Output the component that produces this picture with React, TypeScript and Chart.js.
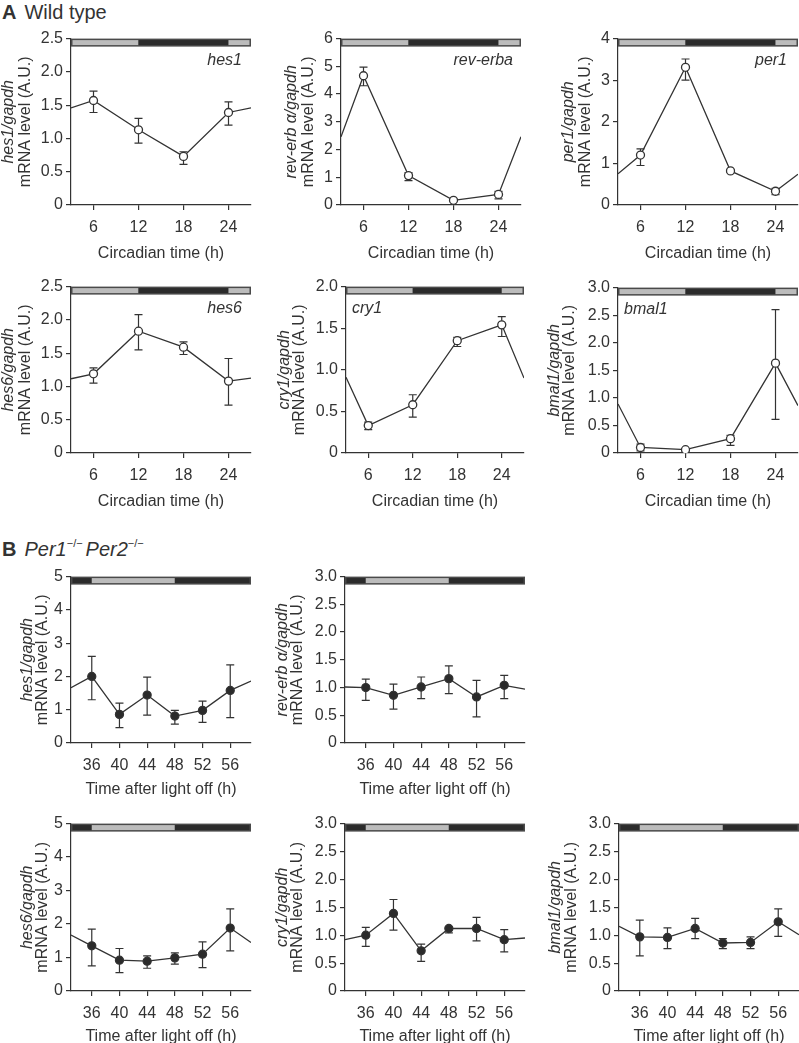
import React, { useEffect, useRef } from 'react';
import { Chart, registerables } from 'chart.js';
Chart.register(...registerables);

const FONT = '"Liberation Sans", Arial, Helvetica, sans-serif';
const INK = '#333333';

// ---------- A: Wild type (circadian time) ----------
const ctHours = [3, 6, 12, 18, 24, 27];
const ctTicks = [6, 12, 18, 24];
const ctPhaseEdges = [3, 12, 24, 27];
const ctPhaseDark = [false, true, false];

const hes1WT = [1.46, 1.57, 1.13, 0.73, 1.39, 1.46];
const hes1WTHi = [null, 1.71, 1.30, 0.80, 1.55, null];
const hes1WTLo = [null, 1.39, 0.93, 0.61, 1.20, null];

const revErbWT = [2.46, 4.66, 1.06, 0.17, 0.38, 2.46];
const revErbWTHi = [null, 4.97, 1.17, 0.20, 0.49, null];
const revErbWTLo = [null, 4.30, 0.88, 0.14, 0.22, null];

const per1WT = [0.75, 1.2, 3.31, 0.82, 0.33, 0.74];
const per1WTHi = [null, 1.35, 3.51, 0.85, 0.40, null];
const per1WTLo = [null, 0.95, 3.0, 0.79, 0.25, null];

const hes6WT = [1.115, 1.19, 1.83, 1.59, 1.08, 1.125];
const hes6WTHi = [null, 1.28, 2.08, 1.67, 1.42, null];
const hes6WTLo = [null, 1.05, 1.55, 1.48, 0.72, null];

const cry1WT = [0.91, 0.33, 0.58, 1.35, 1.54, 0.90];
const cry1WTHi = [null, 0.37, 0.70, 1.39, 1.64, null];
const cry1WTLo = [null, 0.28, 0.43, 1.28, 1.40, null];

const bmal1WT = [0.89, 0.10, 0.06, 0.26, 1.63, 0.86];
const bmal1WTHi = [null, 0.16, 0.08, 0.32, 2.60, null];
const bmal1WTLo = [null, 0.04, 0.04, 0.14, 0.61, null];

// ---------- B: Per1-/- Per2-/- (time after light off) ----------
const offHours = [33, 36, 40, 44, 48, 52, 56, 59];
const offTicks = [36, 40, 44, 48, 52, 56];
const offPhaseEdges = [33, 36, 48, 59];
const offPhaseDark = [true, false, true];

const hes1KO = [1.66, 2.0, 0.86, 1.44, 0.81, 0.98, 1.58, 1.86];
const hes1KOHi = [null, 2.6, 1.2, 1.98, 0.98, 1.26, 2.35, null];
const hes1KOLo = [null, 1.3, 0.46, 0.84, 0.57, 0.62, 0.76, null];

const revErbKO = [1.01, 1.0, 0.86, 1.01, 1.16, 0.83, 1.04, 0.97];
const revErbKOHi = [null, 1.15, 1.06, 1.19, 1.39, 1.13, 1.22, null];
const revErbKOLo = [null, 0.77, 0.61, 0.80, 0.89, 0.47, 0.80, null];

const hes6KO = [1.67, 1.35, 0.92, 0.89, 0.99, 1.10, 1.88, 1.45];
const hes6KOHi = [null, 1.85, 1.27, 1.05, 1.14, 1.47, 2.45, null];
const hes6KOLo = [null, 0.75, 0.55, 0.68, 0.80, 0.70, 1.20, null];

const cry1KO = [0.92, 1.0, 1.39, 0.72, 1.12, 1.12, 0.92, 0.95];
const cry1KOHi = [null, 1.14, 1.64, 0.84, 1.14, 1.32, 1.10, null];
const cry1KOLo = [null, 0.80, 1.09, 0.53, 1.04, 0.90, 0.70, null];

const bmal1KO = [1.16, 0.97, 0.96, 1.12, 0.86, 0.87, 1.24, 1.01];
const bmal1KOHi = [null, 1.27, 1.13, 1.30, 0.94, 0.97, 1.47, null];
const bmal1KOLo = [null, 0.63, 0.76, 0.94, 0.76, 0.76, 0.98, null];

const ctTitle = 'Circadian time (h)';
const offTitle = 'Time after light off (h)';
const mrnaTitle = 'mRNA level (A.U.)';

type PanelCfg = {
  key: string;
  axisX: number; right: number; top: number; bottom: number; t1: number; t2: number; xh: number;
  xs: number[]; ys: number[]; hi: (number | null)[]; lo: (number | null)[];
  xTicks: number[]; xMin: number; xMax: number; xTitle: string;
  phaseEdges: number[]; phaseDark: boolean[];
  yMax: number; yStep: number; yDec: number; yTitle: string;
  gene?: string; geneAlign?: 'left' | 'right'; geneOff?: number;
  filled: boolean;
};

const A = { xs: ctHours, xTicks: ctTicks, xMin: 3, xMax: 27, xTitle: ctTitle, phaseEdges: ctPhaseEdges, phaseDark: ctPhaseDark, filled: false, xh: 58 };
const B = { xs: offHours, xTicks: offTicks, xMin: 33, xMax: 59, xTitle: offTitle, phaseEdges: offPhaseEdges, phaseDark: offPhaseDark, filled: true, xh: 56 };

const panels: PanelCfg[] = [
  { key: 'a1', ...A, axisX: 71, right: 251, top: 38, bottom: 205, t1: -62, t2: -45, ys: hes1WT, hi: hes1WTHi, lo: hes1WTLo, yMax: 2.5, yStep: 0.5, yDec: 1, yTitle: 'hes1/gapdh', gene: 'hes1', geneAlign: 'right', geneOff: 9 },
  { key: 'a2', ...A, axisX: 341, right: 521, top: 38, bottom: 205, t1: -49, t2: -32, ys: revErbWT, hi: revErbWTHi, lo: revErbWTLo, yMax: 6, yStep: 1, yDec: 0, yTitle: 'rev-erb \u03B1/gapdh', gene: 'rev-erba', geneAlign: 'right', geneOff: 8 },
  { key: 'a3', ...A, axisX: 618, right: 798, top: 38, bottom: 205, t1: -49, t2: -32, ys: per1WT, hi: per1WTHi, lo: per1WTLo, yMax: 4, yStep: 1, yDec: 0, yTitle: 'per1/gapdh', gene: 'per1', geneAlign: 'right', geneOff: 11 },
  { key: 'a4', ...A, axisX: 71, right: 251, top: 286, bottom: 453, t1: -62, t2: -45, ys: hes6WT, hi: hes6WTHi, lo: hes6WTLo, yMax: 2.5, yStep: 0.5, yDec: 1, yTitle: 'hes6/gapdh', gene: 'hes6', geneAlign: 'right', geneOff: 9 },
  { key: 'a5', ...A, axisX: 346, right: 524, top: 286, bottom: 453, t1: -61, t2: -46, ys: cry1WT, hi: cry1WTHi, lo: cry1WTLo, yMax: 2.0, yStep: 0.5, yDec: 1, yTitle: 'cry1/gapdh', gene: 'cry1', geneAlign: 'left', geneOff: 6 },
  { key: 'a6', ...A, axisX: 618, right: 798, top: 287, bottom: 453, t1: -63, t2: -48, ys: bmal1WT, hi: bmal1WTHi, lo: bmal1WTLo, yMax: 3.0, yStep: 0.5, yDec: 1, yTitle: 'bmal1/gapdh', gene: 'bmal1', geneAlign: 'left', geneOff: 6 },
  { key: 'b1', ...B, axisX: 71, right: 251, top: 576, bottom: 743, t1: -43, t2: -28, ys: hes1KO, hi: hes1KOHi, lo: hes1KOLo, yMax: 5, yStep: 1, yDec: 0, yTitle: 'hes1/gapdh' },
  { key: 'b2', ...B, axisX: 345, right: 525, top: 576, bottom: 743, t1: -62, t2: -47, ys: revErbKO, hi: revErbKOHi, lo: revErbKOLo, yMax: 3.0, yStep: 0.5, yDec: 1, yTitle: 'rev-erb \u03B1/gapdh' },
  { key: 'b3', ...B, axisX: 71, right: 251, top: 823, bottom: 991, t1: -43, t2: -28, ys: hes6KO, hi: hes6KOHi, lo: hes6KOLo, yMax: 5, yStep: 1, yDec: 0, yTitle: 'hes6/gapdh', xh: 55 },
  { key: 'b4', ...B, axisX: 345, right: 525, top: 823, bottom: 991, t1: -62, t2: -47, ys: cry1KO, hi: cry1KOHi, lo: cry1KOLo, yMax: 3.0, yStep: 0.5, yDec: 1, yTitle: 'cry1/gapdh', xh: 55 },
  { key: 'b5', ...B, axisX: 619, right: 799, top: 823, bottom: 991, t1: -63, t2: -47, ys: bmal1KO, hi: bmal1KOHi, lo: bmal1KOLo, yMax: 3.0, yStep: 0.5, yDec: 1, yTitle: 'bmal1/gapdh', xh: 55 },
];

const PAD_TOP = 12;

function Panel({ cfg }: { cfg: PanelCfg }) {
  const ref = useRef<HTMLCanvasElement | null>(null);
  const wy = cfg.axisX < 100 ? cfg.axisX : 74;
  const padR = Math.max(0, Math.min(12, 799 - cfg.right));
  const width = wy + (cfg.right - cfg.axisX) + padR;
  const height = PAD_TOP + (cfg.bottom - cfg.top) + cfg.xh;
  const left = cfg.axisX - wy;
  const top = cfg.top - PAD_TOP;

  useEffect(() => {
    if (!ref.current) return;
    const last = cfg.xs.length - 1;
    const decor = {
      id: 'decor',
      beforeDatasetsDraw(chart: any) {
        const { ctx } = chart;
        const xs = chart.scales.x;
        const ysc = chart.scales.y;
        ctx.save();
        ctx.strokeStyle = INK;
        ctx.lineWidth = 1.2;
        cfg.xs.forEach((xv, i) => {
          const h = cfg.hi[i];
          const l = cfg.lo[i];
          if (h == null || l == null) return;
          const px = xs.getPixelForValue(xv);
          const ph = ysc.getPixelForValue(h);
          const pl = ysc.getPixelForValue(l);
          ctx.beginPath();
          ctx.moveTo(px, ph); ctx.lineTo(px, pl);
          ctx.moveTo(px - 4, ph); ctx.lineTo(px + 4, ph);
          ctx.moveTo(px - 4, pl); ctx.lineTo(px + 4, pl);
          ctx.stroke();
        });
        ctx.restore();
      },
      afterDraw(chart: any) {
        const { ctx, chartArea } = chart;
        const xs = chart.scales.x;
        const barH = 8;
        ctx.save();
        ctx.fillStyle = '#4a4a4a';
        ctx.fillRect(chartArea.left, chartArea.top, chartArea.right - chartArea.left, barH);
        for (let i = 0; i < cfg.phaseDark.length; i++) {
          const x0 = xs.getPixelForValue(cfg.phaseEdges[i]);
          const x1 = xs.getPixelForValue(cfg.phaseEdges[i + 1]);
          const inL = i === 0 ? 1.5 : 0;
          const inR = i === cfg.phaseDark.length - 1 ? 1.5 : 0;
          ctx.fillStyle = cfg.phaseDark[i] ? '#2b2b2b' : '#bcbcbc';
          ctx.fillRect(x0 + inL, chartArea.top + 1.5, x1 - x0 - inL - inR, barH - 3);
        }
        const cy = (chartArea.top + chartArea.bottom) / 2;
        ctx.fillStyle = INK;
        ctx.textAlign = 'center';
        ctx.textBaseline = 'middle';
        ctx.save();
        ctx.translate(chartArea.left + cfg.t1, cy);
        ctx.rotate(-Math.PI / 2);
        ctx.font = `italic 16px ${FONT}`;
        ctx.fillText(cfg.yTitle, 0, 0);
        ctx.restore();
        ctx.save();
        ctx.translate(chartArea.left + cfg.t2, cy);
        ctx.rotate(-Math.PI / 2);
        ctx.font = `16px ${FONT}`;
        ctx.fillText(mrnaTitle, 0, 0);
        ctx.restore();
        if (cfg.gene) {
          ctx.font = `italic 16px ${FONT}`;
          ctx.textBaseline = 'alphabetic';
          ctx.textAlign = cfg.geneAlign === 'left' ? 'left' : 'right';
          const gx = cfg.geneAlign === 'left' ? chartArea.left + (cfg.geneOff || 6) : chartArea.right - (cfg.geneOff || 9);
          ctx.fillText(cfg.gene, gx, chartArea.top + 26);
        }
        ctx.restore();
      },
    };

    const chart = new Chart(ref.current, {
      type: 'scatter',
      data: {
        datasets: [
          {
            data: cfg.xs.map((x, i) => ({ x, y: cfg.ys[i] })),
            showLine: true,
            borderColor: INK,
            borderWidth: 1.3,
            tension: 0,
            pointRadius: cfg.xs.map((_, i) => (i === 0 || i === last ? 0 : 4)),
            pointHoverRadius: 0,
            pointBackgroundColor: cfg.filled ? '#2b2b2b' : '#ffffff',
            pointBorderColor: INK,
            pointBorderWidth: 1.3,
          },
        ],
      },
      options: {
        animation: false,
        responsive: false,
        devicePixelRatio: 1,
        events: [],
        layout: { padding: { top: PAD_TOP, right: padR, bottom: 0, left: 0 } },
        plugins: { legend: { display: false }, tooltip: { enabled: false }, title: { display: false } },
        scales: {
          x: {
            type: 'linear',
            min: cfg.xMin,
            max: cfg.xMax,
            afterBuildTicks: (s: any) => { s.ticks = cfg.xTicks.map((v) => ({ value: v })); },
            afterFit: (s: any) => { s.height = cfg.xh; },
            ticks: { color: INK, font: { family: FONT, size: 16 }, padding: 8, autoSkip: false, maxRotation: 0, callback: (v: any) => String(v) },
            grid: { display: true, drawOnChartArea: false, drawTicks: true, tickLength: 5, color: INK, lineWidth: 1.2 },
            border: { display: true, color: INK, width: 1.2 },
            title: { display: true, text: cfg.xTitle, color: INK, font: { family: FONT, size: 16 }, padding: { top: 0, bottom: 0 } },
          },
          y: {
            type: 'linear',
            min: 0,
            max: cfg.yMax,
            afterFit: (s: any) => { s.width = wy; },
            ticks: {
              stepSize: cfg.yStep,
              color: INK,
              font: { family: FONT, size: 16 },
              padding: 3,
              callback: (v: any) => (Number(v) === 0 ? '0' : Number(v).toFixed(cfg.yDec)),
            },
            grid: { display: true, drawOnChartArea: false, drawTicks: true, tickLength: 5, color: INK, lineWidth: 1.2 },
            border: { display: true, color: INK, width: 1.2 },
          },
        },
      },
      plugins: [decor],
    } as any);
    return () => chart.destroy();
  }, [cfg]);

  return (
    <canvas
      ref={ref}
      width={width}
      height={height}
      style={{ position: 'absolute', left, top, width, height }}
    />
  );
}

export default function App() {
  const sup = { fontSize: 11, position: 'relative' as const, top: -9, fontStyle: 'normal' as const };
  return (
    <div style={{ position: 'absolute', left: 0, top: 0, width: 799, height: 1043, background: '#fff', overflow: 'hidden', fontFamily: FONT, color: INK }}>
      <div style={{ position: 'absolute', left: 2, top: 2, fontSize: 20, lineHeight: '20px', whiteSpace: 'nowrap' }}>
        <b>A</b><span style={{ marginLeft: 8 }}>Wild type</span>
      </div>
      <div style={{ position: 'absolute', left: 2, top: 539, fontSize: 20, lineHeight: '20px', whiteSpace: 'nowrap' }}>
        <b>B</b>
        <span style={{ marginLeft: 8 }}>
          <i>Per1</i><span style={sup}>{'\u2212/\u2212'}</span>
          <span style={{ marginLeft: 3 }}><i>Per2</i></span><span style={sup}>{'\u2212/\u2212'}</span>
        </span>
      </div>
      {panels.map((p) => (
        <Panel key={p.key} cfg={p} />
      ))}
    </div>
  );
}
